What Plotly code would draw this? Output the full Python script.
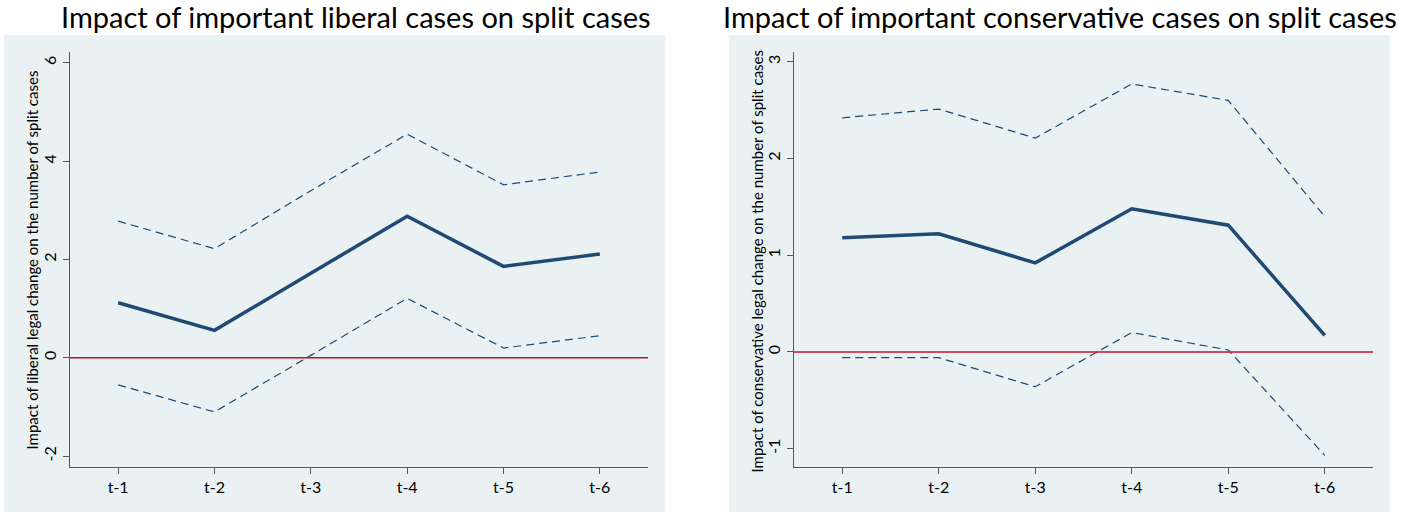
import plotly.graph_objects as go

W, H = 1409, 517

periods = ["t-1", "t-2", "t-3", "t-4", "t-5", "t-6"]
xpos = [1, 2, 3, 4, 5, 6]

lib_est = [1.12, 0.56, 1.72, 2.88, 1.86, 2.11]
lib_upper = [2.78, 2.22, 3.40, 4.55, 3.52, 3.78]
lib_lower = [-0.55, -1.10, 0.05, 1.21, 0.20, 0.45]

con_est = [1.18, 1.22, 0.92, 1.48, 1.31, 0.17]
con_upper = [2.42, 2.51, 2.21, 2.77, 2.60, 1.40]
con_lower = [-0.06, -0.06, -0.36, 0.20, 0.02, -1.07]

titles = ["Impact of important liberal cases on split cases",
          "Impact of important conservative cases on split cases"]
ytitles = ["Impact of liberal legal change on the number of split cases",
           "Impact of conservative legal change on the number of split cases"]

lib_ticks = [-2, 0, 2, 4, 6]
con_ticks = [-1, 0, 1, 2, 3]

NAVY = "#1f4a73"
RED = "#c8102e"
BG = "#eaf1f3"
GRID = "#e6eff1"
AXIS = "#555555"
FONT = "Lato"

def px(x):
    return x / W

def py(y):
    return 1 - y / H

fig = go.Figure()

series = [(lib_est, lib_upper, lib_lower, "x", "y"),
          (con_est, con_upper, con_lower, "x2", "y2")]
for est, up, lo, xa, ya in series:
    for vals in (up, lo):
        fig.add_trace(go.Scatter(x=xpos, y=vals, mode="lines", xaxis=xa, yaxis=ya,
                                 line=dict(color=NAVY, width=1.2, dash="8px,5px"),
                                 showlegend=False, hoverinfo="skip"))
    fig.add_trace(go.Scatter(x=xpos, y=est, mode="lines", xaxis=xa, yaxis=ya,
                             line=dict(color=NAVY, width=3.5),
                             showlegend=False))

# panel geometry (pixels)
panels = [dict(gx0=4, gx1=665, ax0=70, ax1=648, tick=lib_ticks, yr=[-2.22, 6.22],
               tx=356, ytx=31),
          dict(gx0=729, gx1=1390, ax0=794, ax1=1373, tick=con_ticks, yr=[-1.19, 3.10],
               tx=1060, ytx=756)]
top, bottom = 52, 467

shapes = []
annotations = []
for i, p in enumerate(panels):
    shapes.append(dict(type="rect", xref="paper", yref="paper",
                       x0=px(p["gx0"]), x1=px(p["gx1"]), y0=py(512), y1=py(35),
                       fillcolor=BG, line=dict(width=0), layer="below"))
    xref = "x" if i == 0 else "x2"
    yref = "y" if i == 0 else "y2"
    shapes.append(dict(type="line", xref=xref + " domain", yref=yref,
                       x0=0, x1=1, y0=0, y1=0, line=dict(color=RED, width=1.5)))
    annotations.append(dict(text=titles[i], xref="paper", yref="paper",
                            x=px(p["tx"]), y=py(17), xanchor="center", yanchor="middle",
                            showarrow=False, font=dict(family=FONT, size=29, color="#000000")))
    annotations.append(dict(text=ytitles[i], xref="paper", yref="paper",
                            x=px(p["ytx"]), y=py((top + bottom) / 2 + 1), xanchor="center",
                            yanchor="middle", textangle=-90, showarrow=False,
                            font=dict(family=FONT, size=15, color="#000000")))

layout_axes = {}
for i, p in enumerate(panels):
    sfx = "" if i == 0 else "2"
    layout_axes["xaxis" + sfx] = dict(
        domain=[px(p["ax0"]), px(p["ax1"])], range=[0.5, 6.5],
        tickvals=xpos, ticktext=periods, ticks="outside", ticklen=6, tickwidth=1,
        tickcolor=AXIS, showline=True, linecolor=AXIS, linewidth=1.3,
        showgrid=False, zeroline=False, fixedrange=True,
        tickfont=dict(family=FONT, size=16, color="#000000"),
        anchor="y" + sfx)
    layout_axes["yaxis" + sfx] = dict(
        domain=[py(bottom), py(top)], range=p["yr"],
        tickvals=p["tick"], ticktext=[str(t) for t in p["tick"]],
        tickangle=-90, ticks="outside", ticklen=6, tickwidth=1, tickcolor=AXIS,
        showline=True, linecolor=AXIS, linewidth=1.3,
        showgrid=True, gridcolor=GRID, gridwidth=1.3, zeroline=False,
        tickfont=dict(family=FONT, size=16, color="#000000"),
        anchor="x" + sfx)

fig.update_layout(
    width=W, height=H,
    margin=dict(l=0, r=0, t=0, b=0),
    paper_bgcolor="white", plot_bgcolor="white",
    shapes=shapes, annotations=annotations,
    showlegend=False,
    **layout_axes,
)

fig.write_html("out.html")
